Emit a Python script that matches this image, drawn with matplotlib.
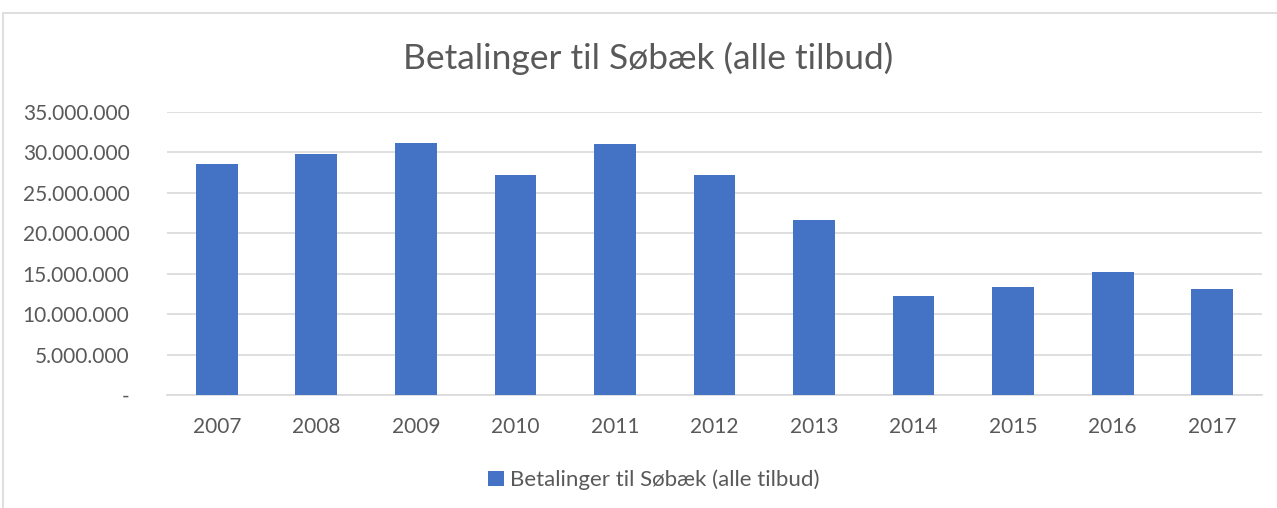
import matplotlib.pyplot as plt
from matplotlib.patches import Rectangle
from matplotlib.ticker import FuncFormatter

years = ["2007", "2008", "2009", "2010", "2011", "2012",
         "2013", "2014", "2015", "2016", "2017"]
payments = [28.55e6, 29.85e6, 31.2e6, 27.2e6, 31.1e6, 27.15e6,
            21.6e6, 12.3e6, 13.3e6, 15.25e6, 13.1e6]
series_name = "Betalinger til Søbæk (alle tilbud)"
title = "Betalinger til Søbæk (alle tilbud)"

BAR = "#4472C4"
TEXT = "#595959"
GRID = "#D9D9D9"

plt.rcParams["font.family"] = ["Lato", "DejaVu Sans"]


def thousands(v, pos):
    if v == 0:
        return "-"
    return f"{v:,.0f}".replace(",", ".")


def plot_payments():
    fig = plt.figure(figsize=(12.77, 5.08), dpi=100, facecolor="white")
    fig.patches.append(Rectangle((3 / 1277, -0.01), 1.0, 1 - 13 / 508 + 0.01,
                                 transform=fig.transFigure, fill=False,
                                 edgecolor=GRID, linewidth=1.2))
    ax = fig.add_axes([167 / 1277, 1 - 395 / 508, 1095 / 1277, 283 / 508])

    x = range(len(years))
    ax.bar(x, payments, width=0.42, color=BAR, label=series_name, zorder=3)

    ax.set_xlim(-0.5, len(years) - 0.5)
    ax.set_ylim(0, 35e6)
    ax.set_yticks([i * 5e6 for i in range(8)])
    ax.yaxis.set_major_formatter(FuncFormatter(thousands))
    ax.set_xticks(list(x))
    ax.set_xticklabels(years)
    ax.grid(axis="y", color=GRID, linewidth=1.2, zorder=0)
    for side in ["top", "right", "left"]:
        ax.spines[side].set_visible(False)
    ax.spines["bottom"].set_color(GRID)
    ax.spines["bottom"].set_linewidth(1.2)
    ax.tick_params(axis="both", length=0, labelsize=15, colors=TEXT)
    ax.tick_params(axis="y", pad=27)
    ax.tick_params(axis="x", pad=16)

    fig.text(0.5075, 1 - 58 / 508, title, ha="center", va="center",
             fontsize=25.5, color=TEXT)
    fig.legend(loc="center", bbox_to_anchor=(0.512, 1 - 480 / 508),
               frameon=False, fontsize=16, labelcolor=TEXT,
               handlelength=0.7, handleheight=0.7, handletextpad=0.3)

    fig.savefig("out.png", dpi=100, facecolor="white")
    plt.close(fig)


if __name__ == "__main__":
    plot_payments()
